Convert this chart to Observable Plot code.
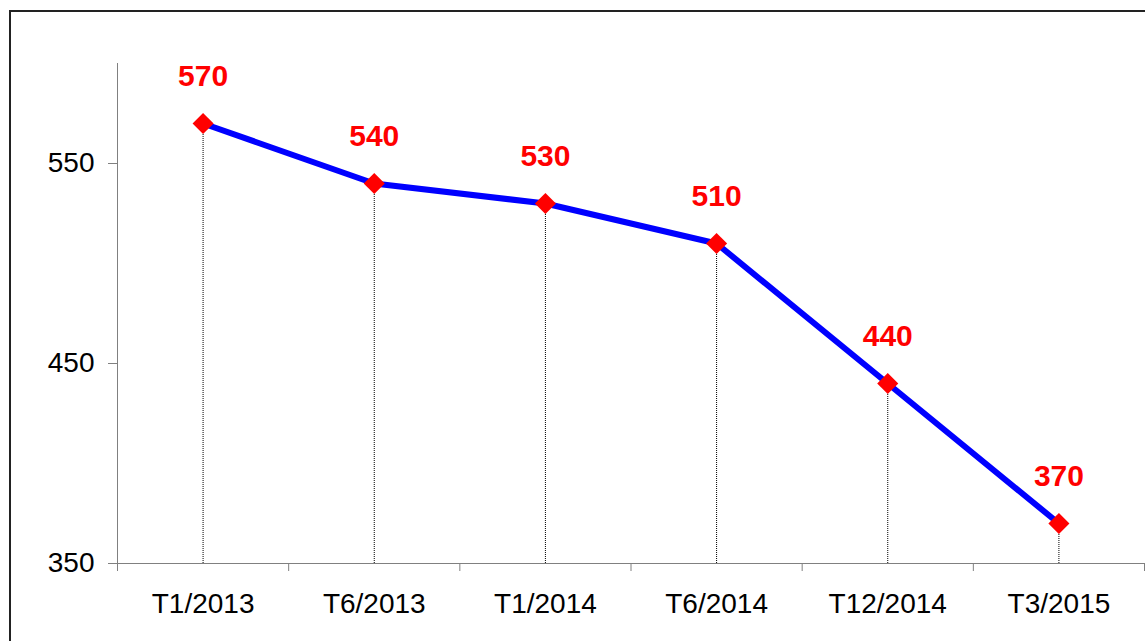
<!DOCTYPE html>
<html>
<head>
<meta charset="utf-8">
<script src="https://cdn.jsdelivr.net/npm/d3@7"></script>
<script src="https://cdn.jsdelivr.net/npm/@observablehq/plot@0.6"></script>
<style>
  html, body { margin: 0; padding: 0; background: #fff; overflow: hidden; }
  #wrap { position: relative; width: 1145px; height: 641px; }
  #border { position: absolute; left: 9px; top: 10px; width: 1300px; height: 800px;
            border-left: 2px solid #222; border-top: 2px solid #222; pointer-events: none; }
  svg { font-family: Arial, "Liberation Sans", sans-serif; }
</style>
</head>
<body>
<div id="wrap"><div id="border"></div></div>
<script>
const categories = ["T1/2013", "T6/2013", "T1/2014", "T6/2014", "T12/2014", "T3/2015"];
const values = [570, 540, 530, 510, 440, 370];
const yTicks = [350, 450, 550];

const data = categories.map((c, i) => ({cat: c, pos: i + 0.5, value: values[i]}));
const bounds = d3.range(categories.length + 1);
const centers = categories.map((c, i) => i + 0.5);

const chart = Plot.plot({
  width: 1145,
  height: 641,
  marginLeft: 117,
  marginRight: 1,
  marginTop: 63,
  marginBottom: 78,
  style: {fontFamily: "Arial, 'Liberation Sans', sans-serif", background: "transparent"},
  x: {type: "linear", domain: [0, categories.length]},
  y: {domain: [350, 600]},
  marks: [
    Plot.ruleX(data, {x: "pos", y1: 350, y2: "value", stroke: "#000", strokeWidth: 1, strokeDasharray: "1,1"}),
    Plot.axisY({ticks: yTicks, tickSize: 9, tickPadding: 14, fontSize: 28, stroke: "#808080", color: "#000", label: null, tickFormat: d => d}),
    Plot.axisX({ticks: bounds, tickSize: 8, tickFormat: () => "", stroke: "#808080", label: null}),
    Plot.axisX({ticks: centers, tickSize: 0, tickPadding: 30, fontSize: 28, tickFormat: d => categories[Math.floor(d)], label: null, color: "#000"}),
    Plot.frame({anchor: "left", stroke: "#808080"}),
    Plot.frame({anchor: "bottom", stroke: "#808080"}),
    Plot.ruleX([0], {y1: 350, y2: 346, stroke: "#808080"}),
    Plot.line(data, {x: "pos", y: "value", stroke: "#0000ff", strokeWidth: 6}),
    Plot.dot(data, {x: "pos", y: "value", symbol: "diamond2", r: 9.5, fill: "#ff0000", stroke: "none"}),
    Plot.text(data, {x: "pos", y: "value", text: d => String(d.value), dy: -47, fill: "#ff0000", fontSize: 30, fontWeight: "bold"})
  ]
});
document.getElementById("wrap").insertBefore(chart, document.getElementById("border"));
</script>
</body>
</html>
